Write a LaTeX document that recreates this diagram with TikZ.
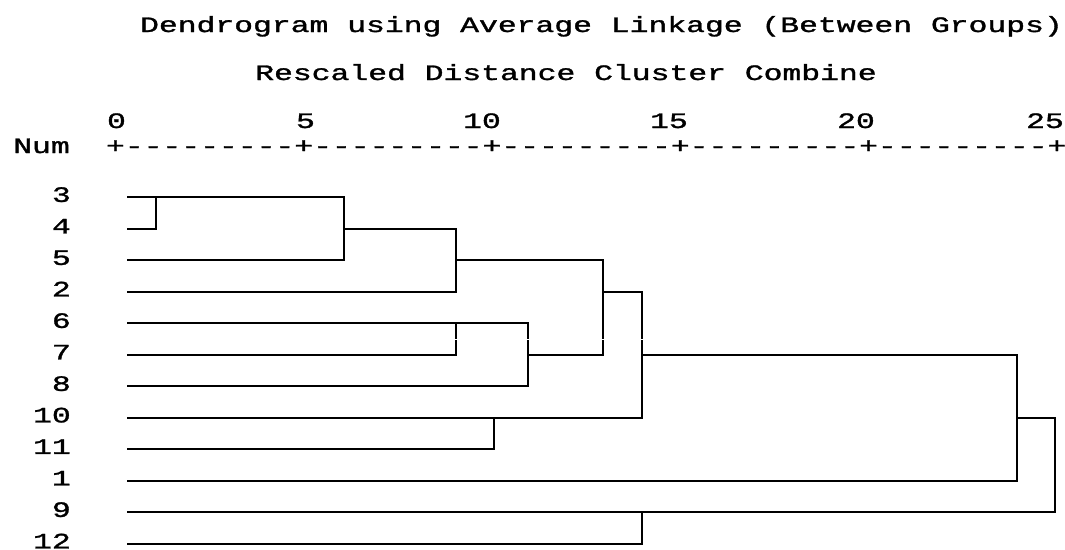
\documentclass[tikz,border=0pt]{standalone}
\usepackage{fontspec}
\usepackage{graphicx}
\newfontfamily\dmono{Liberation Mono}[FakeBold=1.2]
\usetikzlibrary{calc}
\newcommand{\mt}[1]{\scalebox{1.4265}[1]{#1}}
\newcommand{\nd}{-\kern0pt}
\newcommand{\ninedash}{\nd\nd\nd\nd\nd\nd\nd\nd\nd}
\begin{document}
\begin{tikzpicture}[x=1pt,y=-1pt,
  txt/.style={font=\dmono\fontsize{22}{22}\selectfont, inner sep=0pt, text=black, anchor=base},
  lbl/.style={txt, anchor=base east},
  link/.style={draw=black, line width=2pt, line join=miter, line cap=butt},
  gapmark/.style={draw=white, line width=1.2pt}]
\useasboundingbox[fill=white] (0,0) rectangle (1065,549);

% titles
\node[txt] (title) at (601.5,32) {\mt{Dendrogram using Average Linkage (Between Groups)}};
\node[txt] (subtitle) at (566,80) {\mt{Rescaled Distance Cluster Combine}};

% scale
\node[txt] (n0) at (116.5,128) {\mt{0}};
\node[txt] (n5) at (305.5,128) {\mt{5}};
\node[txt] (n10) at (482,128) {\mt{10}};
\node[txt] (n15) at (669,128) {\mt{15}};
\node[txt] (n20) at (856,128) {\mt{20}};
\node[txt] (n25) at (1045,128) {\mt{25}};
\node[txt] (num) at (41.5,153) {\mt{Num}};
\node[txt] (scale) at (586.25,153) {\mt{+\ninedash+\ninedash+\ninedash+\ninedash+\ninedash+}};

% rows
\def\rA{197.3}\def\rB{228.8}\def\rC{260.3}\def\rD{291.8}\def\rE{323.3}\def\rF{354.8}
\def\rG{386.3}\def\rH{417.8}\def\rI{449.3}\def\rJ{480.8}\def\rK{512.3}\def\rL{543.8}
\foreach \lab/\ry/\nm in {3/\rA/l3,4/\rB/l4,5/\rC/l5,2/\rD/l2,6/\rE/l6,7/\rF/l7,8/\rG/l8,10/\rH/l10,11/\rI/l11,1/\rJ/l1,9/\rK/l9,12/\rL/l12}{
  \node[lbl] (\nm) at (71,\ry+4.6) {\mt{\lab}};
  \coordinate (s\lab) at (127,\ry);
}

% cluster joints (x of merge, y of the row that carries the cluster on)
\coordinate (c34) at (155.5,\rA);
\coordinate (c345) at (344,\rB);
\coordinate (cA) at (455.5,\rC);
\coordinate (c67) at (455.5,\rE);
\coordinate (cB) at (528,\rF);
\coordinate (c1011) at (494,\rH);
\coordinate (cAB) at (602.5,\rD);
\coordinate (cC) at (641.5,\rF);
\coordinate (c912) at (641.5,\rK);
\coordinate (cD) at (1016.5,\rH);
\coordinate (cE) at (1055,\rJ);

% merges: (a) -- (a -| c) -- (b -| c) -- (b)
\draw[link] (s3) -- (s3 -| c34) -- (s4 -| c34) -- (s4);
\draw[link] (c34) -- (c34 -| c345) -- (s5 -| c345) -- (s5);
\draw[link] (c345) -- (c345 -| cA) -- (s2 -| cA) -- (s2);
\draw[link] (s6) -- (s6 -| c67) -- (s7 -| c67) -- (s7);
\draw[link] (c67) -- (c67 -| cB) -- (s8 -| cB) -- (s8);
\draw[link] (s10) -- (s10 -| c1011) -- (s11 -| c1011) -- (s11);
\draw[link] (cA) -- (cA -| cAB) -- (cB -| cAB) -- (cB);
\draw[link] (cAB) -- (cAB -| cC) -- (c1011 -| cC) -- (c1011);
\draw[link] (s9) -- (s9 -| c912) -- (s12 -| c912) -- (s12);
\draw[link] (cC) -- (cC -| cD) -- (s1 -| cD) -- (s1);
\draw[link] (cD) -- (cD -| cE) -- (c912 -| cE) -- (c912);

% small breaks in the vertical strokes between rows 6 and 7
\coordinate (gy) at (0,339.3);
\foreach \cc in {c67,cB,cAB,cC}{
  \draw[gapmark] ([xshift=-2pt]gy -| \cc) -- ([xshift=2pt]gy -| \cc);
}
\end{tikzpicture}
\end{document}
